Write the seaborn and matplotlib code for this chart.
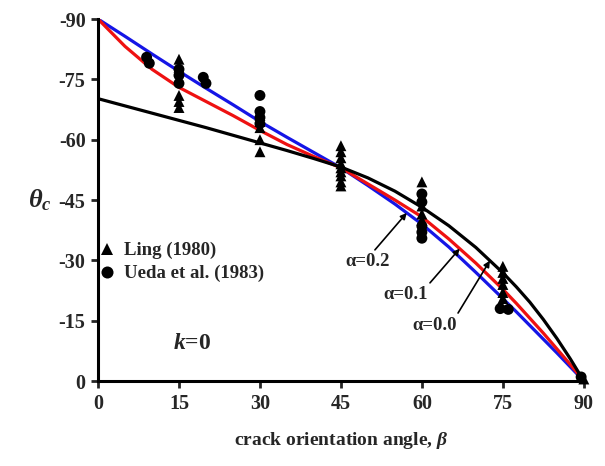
import numpy as np
import pandas as pd
import matplotlib
matplotlib.use("Agg")
import matplotlib.pyplot as plt
import seaborn as sns

sns.set_theme(style="ticks")
plt.rcParams["font.family"] = ["Liberation Serif", "DejaVu Serif"]
plt.rcParams["font.weight"] = "bold"
plt.rcParams["axes.unicode_minus"] = False
plt.rcParams["mathtext.fontset"] = "custom"
plt.rcParams["mathtext.rm"] = "Liberation Serif:bold"
plt.rcParams["mathtext.it"] = "Liberation Serif:italic:bold"
plt.rcParams["mathtext.bf"] = "Liberation Serif:bold"

# Crack orientation angle grid for the predicted curves
beta = [0, 5, 10, 15, 20, 25, 30, 35, 40, 45, 50, 55, 60, 65, 70, 75,
        77.5, 80, 82.5, 85, 87.5, 90]
# Predicted crack initiation angle for each alpha
theta_a02 = [-90, -85.7, -81.3, -77.0, -72.8, -68.7, -64.5, -60.6, -56.8, -53.0,
             -48.6, -44.0, -39.0, -33.3, -27.0, -20.5, -17.2, -13.8, -10.4,
             -7.0, -3.5, 0]
theta_a01 = [-90, -83.2, -77.5, -73.0, -69.5, -66.0, -62.3, -58.8, -55.8, -53.0,
             -49.0, -45.0, -40.8, -35.3, -29.3, -22.8, -19.3, -15.6, -11.9,
             -8.0, -4.1, 0]
theta_a00 = [-70.2, -68.4, -66.6, -64.8, -63.0, -61.1, -59.2, -57.3, -55.3, -53.2,
             -50.5, -47.2, -43.2, -38.6, -33.2, -26.9, -23.4, -19.6, -15.3,
             -10.6, -5.5, 0]

# Experimental data
ling_beta = [15, 15, 15, 15, 15, 30, 30, 30, 30, 30,
             45, 45, 45, 45, 45, 45, 45, 45, 45,
             60, 60, 60, 60, 75, 75, 75, 75, 75, 75, 90]
ling_theta = [-80, -78, -71, -69.5, -68, -66, -64.5, -63, -60, -57,
              -58.5, -57, -55.5, -54, -53, -52, -51, -49.5, -48.5,
              -49.5, -43.5, -41.5, -40, -28.5, -27, -25.5, -24, -22, -20.5, -0.5]
ueda_beta = [9, 9.5, 15, 15, 15, 19.5, 20, 30, 30, 30, 30,
             60, 60, 60, 60, 60, 74.5, 76, 89.5]
ueda_theta = [-80.5, -79, -77.5, -76, -74, -75.5, -74, -71, -67, -65.5, -64,
              -46.5, -44.5, -38.5, -37, -35.5, -18, -17.8, -1]

src_ling = "Ling (1980)"
src_ueda = "Ueda et al. (1983)"
exp = pd.DataFrame({
    "beta": ling_beta + ueda_beta,
    "theta": ling_theta + ueda_theta,
    "source": [src_ling] * len(ling_beta) + [src_ueda] * len(ueda_beta),
})

fig = plt.figure(figsize=(6.05, 4.66), dpi=100)
ax = fig.add_axes([0.162, 0.1824, 0.803, 0.7768])

lw = 2.3
sns.lineplot(x=beta, y=theta_a02, color="#1515e6", lw=lw, ax=ax, zorder=2)
sns.lineplot(x=beta, y=theta_a01, color="#ee1111", lw=lw, ax=ax, zorder=2)
sns.lineplot(x=beta, y=theta_a00, color="black", lw=lw, ax=ax, zorder=2)

sns.scatterplot(data=exp, x="beta", y="theta", style="source",
                markers={src_ling: "^", src_ueda: "o"}, color="black",
                s=62, edgecolor="black", linewidth=0, ax=ax, zorder=3,
                clip_on=False)

ax.set_xlim(0, 90)
ax.set_ylim(0, -90)
ax.set_xticks(np.arange(0, 91, 15))
ax.set_yticks(np.arange(0, -91, -15))
ax.tick_params(direction="out", length=5, width=2, labelsize=14.5, pad=4)
for lab in ax.get_xticklabels() + ax.get_yticklabels():
    lab.set_fontweight("bold")
sns.despine(ax=ax)
for sp in ("left", "bottom"):
    ax.spines[sp].set_linewidth(2.2)
    ax.spines[sp].set_color("black")

ax.set_xlabel(r"crack orientation angle, $\beta$", fontsize=14, fontweight="bold")
ax.xaxis.set_label_coords(0.5, -0.135)
ax.set_ylabel(r"$\theta_c$", fontsize=19, rotation=0, va="center")
ax.yaxis.set_label_coords(-0.12, 0.5)

leg = ax.legend(loc="upper left", bbox_to_anchor=(-0.035, 0.405), frameon=False,
                handletextpad=-0.1, labelspacing=0.3, fontsize=13.5,
                markerscale=1.1, borderaxespad=0)
for t in leg.get_texts():
    t.set_fontweight("bold")

ax.text(17.5, -9.2, r"$k$=0", fontsize=17, fontweight="bold", ha="center", va="center")

# Curve labels with arrows
labels = [("α=0.2", 50.0, -29.6, 51.3, -32.6, 57.2, theta_a02),
          ("α=0.1", 56.9, -21.4, 61.5, -24.4, 67.0, theta_a01),
          ("α=0.0", 62.4, -13.9, 66.7, -16.9, 72.6, theta_a00)]
for txt, tx, ty, ax0, ay0, bx, curve in labels:
    by = float(np.interp(bx, beta, curve))
    ax.text(tx, ty, txt, fontsize=13.5, fontweight="bold", ha="center", va="center")
    ax.annotate("", xy=(bx, by), xytext=(ax0, ay0),
                arrowprops=dict(arrowstyle="-|>", color="black", lw=1.2,
                                mutation_scale=9, shrinkA=0, shrinkB=0))

fig.savefig("out.png", dpi=100)
